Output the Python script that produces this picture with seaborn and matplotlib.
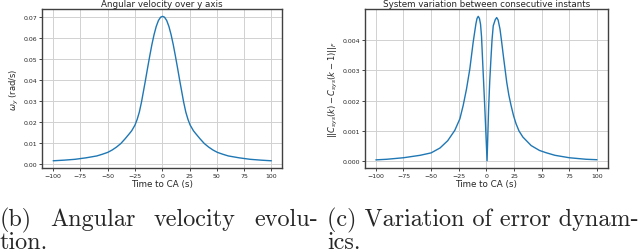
import numpy as np
import pandas as pd
import seaborn as sns
import matplotlib.pyplot as plt

# angular velocity over y axis
t_omega = [-100, -90, -80, -70, -60, -55, -50, -46, -42, -38, -34, -30, -28,
           -25, -23, -21, -19, -17.5, -15.5, -13.5, -11.5, -9.5, -7.5, -5.5,
           -3.5, -1.5, 0.3, 2.1, 4.1, 6.1, 8.1, 10.1, 12.1, 14.1, 16.1, 18.1,
           19.6, 21.6, 23.6, 25.6, 28.6, 30.6, 34.6, 38.6, 42.6, 46.6, 50.6,
           55.6, 60.6, 70.6, 80.6, 90.6, 100]
omega = [0.0015, 0.0018, 0.0022, 0.0029, 0.0038, 0.0046, 0.0055, 0.0066,
         0.0080, 0.0097, 0.0120, 0.0145, 0.0158, 0.0185, 0.0212, 0.0247,
         0.0295, 0.0338, 0.0395, 0.0455, 0.0513, 0.0568, 0.0616, 0.0655,
         0.0683, 0.0699, 0.0703, 0.0699, 0.0683, 0.0655, 0.0616, 0.0568,
         0.0513, 0.0455, 0.0395, 0.0338, 0.0295, 0.0247, 0.0212, 0.0185,
         0.0158, 0.0145, 0.0120, 0.0097, 0.0080, 0.0066, 0.0055, 0.0046,
         0.0038, 0.0029, 0.0022, 0.0018, 0.0015]

# Frobenius norm of the variation between consecutive instants
t_var = [-100, -90, -75, -60, -50, -42, -35, -28.6, -24, -21, -18, -15, -12,
         -10.5, -9.5, -8.5, -7.4, -6.3, -5.3, -4.4, -3.5, -1.4, 0.6, 2, 3,
         4.1, 5.1, 6.2, 8, 9.3, 10.6, 12.3, 13.8, 15.3, 18.4, 20.3, 22.3,
         24.5, 26.8, 29.5, 33, 40.5, 48, 54, 62, 75, 90, 100]
variation = [0.00005, 0.00007, 0.00012, 0.00020, 0.00028, 0.00044, 0.00068,
             0.00102, 0.00140, 0.00184, 0.00238, 0.00304, 0.00391, 0.00428,
             0.00452, 0.00470, 0.00477, 0.00470, 0.00451, 0.00410, 0.00337,
             0.00173, 0.00002, 0.00173, 0.00262, 0.00337, 0.00400, 0.00446,
             0.00466, 0.00473, 0.00465, 0.00435, 0.00393, 0.00348, 0.00260,
             0.00218, 0.00184, 0.00151, 0.00124, 0.00100, 0.00080, 0.00052,
             0.00036, 0.000285, 0.00020, 0.00012, 0.00007, 0.000055]

x_ticks = [-100, -75, -50, -25, 0, 25, 50, 75, 100]
caption_b = ["(b)", "Angular", "velocity", "evolu-"]

sns.set_style("ticks", {"axes.grid": True, "grid.color": "0.82",
                        "axes.edgecolor": "0.25"})

df_omega = pd.DataFrame({"t": t_omega, "omega": omega})
df_var = pd.DataFrame({"t": t_var, "variation": variation})

fig = plt.figure(figsize=(6.4, 2.53), dpi=100)
ax1 = fig.add_axes([0.066, 0.332, 0.375, 0.628])
ax2 = fig.add_axes([0.570, 0.332, 0.380, 0.628])

sns.lineplot(data=df_omega, x="t", y="omega", ax=ax1, color="#1f77b4", lw=1.0)
sns.lineplot(data=df_var, x="t", y="variation", ax=ax2, color="#1f77b4", lw=1.0)

ax1.set_title("Angular velocity over y axis", fontsize=6.3, pad=2)
ax1.set_ylabel(r"$\omega_y$ (rad/s)", fontsize=6, labelpad=2)
ax1.set_yticks([0.0, 0.01, 0.02, 0.03, 0.04, 0.05, 0.06, 0.07])

ax2.set_title("System variation between consecutive instants", fontsize=6.3, pad=2)
ax2.set_ylabel(r"$||C_{sys}(k) - C_{sys}(k-1)||_F$", fontsize=6, labelpad=2)
ax2.set_yticks([0.0, 0.001, 0.002, 0.003, 0.004])

for ax in (ax1, ax2):
    ax.set_xticks(x_ticks)
    ax.set_xlabel("Time to CA (s)", fontsize=6.3, labelpad=1)
    ax.tick_params(labelsize=4.5, length=2, width=0.6, pad=1.5)
    ax.grid(True, lw=0.7)
    for s in ax.spines.values():
        s.set_linewidth(1.0)

# captions underneath; first line of (b) is justified to 318 px
cap = dict(fontsize=17.4, family="cmr10", va="baseline")
y1, y2 = 1 - 226 / 253, 1 - 249 / 253
words = [fig.text(0, y1, w, **cap) for w in caption_b]
renderer = fig.canvas.get_renderer()
widths = [t.get_window_extent(renderer).width for t in words]
gap = (318 - sum(widths)) / (len(words) - 1)
x = 0
for t, w in zip(words, widths):
    t.set_x(x / 640)
    x += w + gap
fig.text(0, y2, "tion.", **cap)
fig.text(327 / 640, y1, "(c) Variation of error dynam-", **cap)
fig.text(327 / 640, y2, "ics.", **cap)

fig.savefig("out.png", dpi=100)
